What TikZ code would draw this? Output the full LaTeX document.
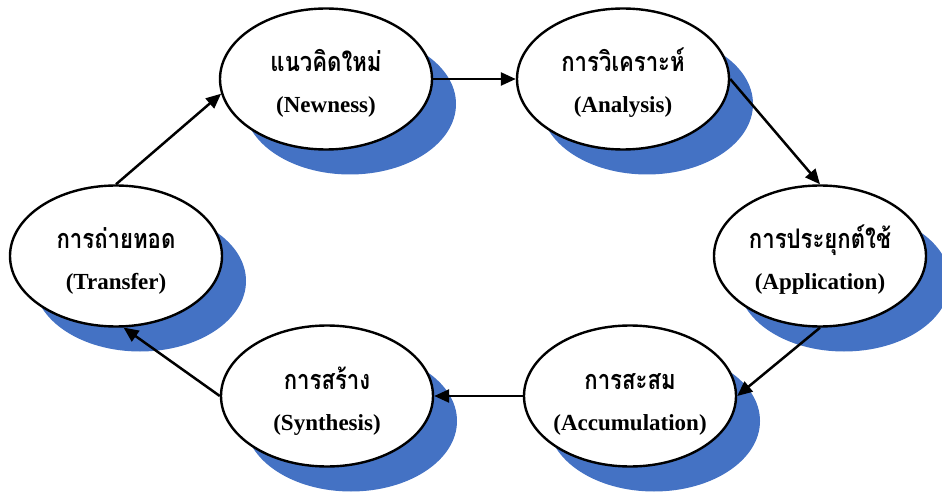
\documentclass[tikz,border=0pt]{standalone}
\usepackage{fontspec}
\setmainfont{Liberation Serif}
\newfontfamily\thaifont[Script=Thai,FakeStretch=0.82]{Loma}
\usetikzlibrary{arrows.meta,shapes.geometric}
\definecolor{shadowblue}{RGB}{68,114,196}
\begin{document}
\begin{tikzpicture}[x=1pt,y=-1pt,
  ell/.style={ellipse, draw=black, line width=2.4pt, fill=white, minimum width=212pt, minimum height=141pt, inner sep=0pt},
  shad/.style={ellipse, fill=shadowblue, draw=none, minimum width=212pt, minimum height=141pt, inner sep=0pt},
  th/.style={font=\thaifont\bfseries\fontsize{27}{30}\selectfont, anchor=base, inner sep=0pt},
  en/.style={font=\bfseries\fontsize{23}{26}\selectfont, anchor=base, inner sep=0pt},
  arr/.style={-{Triangle[length=15pt,width=13pt]}, line width=2.5pt}]
\useasboundingbox (0,0) rectangle (942,494);
\clip (0,0) rectangle (942,494);
% shadows
\node[shad] (newS) at (350,104) {};
\node[shad] (anaS) at (647,104) {};
\node[shad] (appS) at (844,281) {};
\node[shad] (traS) at (140,281) {};
\node[shad] (synS) at (351,421) {};
\node[shad] (accS) at (654,421) {};
% ellipses
\node[ell] (new) at (326,79) {};
\node[ell] (ana) at (623,79) {};
\node[ell] (app) at (820,256) {};
\node[ell] (tra) at (116,256) {};
\node[ell] (syn) at (327,396) {};
\node[ell] (acc) at (630,396) {};
% texts
\node[th] (newT) at (326,72) {แนวคิดใหม่};
\node[en] (newE) at (326,113) {(Newness)};
\node[th] (anaT) at (623,72) {การวิเคราะห์};
\node[en] (anaE) at (623,113) {(Analysis)};
\node[th] (appT) at (820,249) {การประยุกต์ใช้};
\node[en] (appE) at (820,290) {(Application)};
\node[th] (traT) at (116,249) {การถ่ายทอด};
\node[en] (traE) at (116,290) {(Transfer)};
\node[th] (synT) at (327,389) {การสร้าง};
\node[en] (synE) at (327,430) {(Synthesis)};
\node[th] (accT) at (630,389) {การสะสม};
\node[en] (accE) at (630,430) {(Accumulation)};
% arrows
\draw[arr] (tra.north) -- (new.188);
\draw[arr] (new.east) -- (ana.west);
\draw[arr] (ana.east) -- (app.north);
\draw[arr] (app.south) -- (acc.east);
\draw[arr] (acc.west) -- (syn.east);
\draw[arr] (syn.west) -- (tra.-84);
\end{tikzpicture}
\end{document}
